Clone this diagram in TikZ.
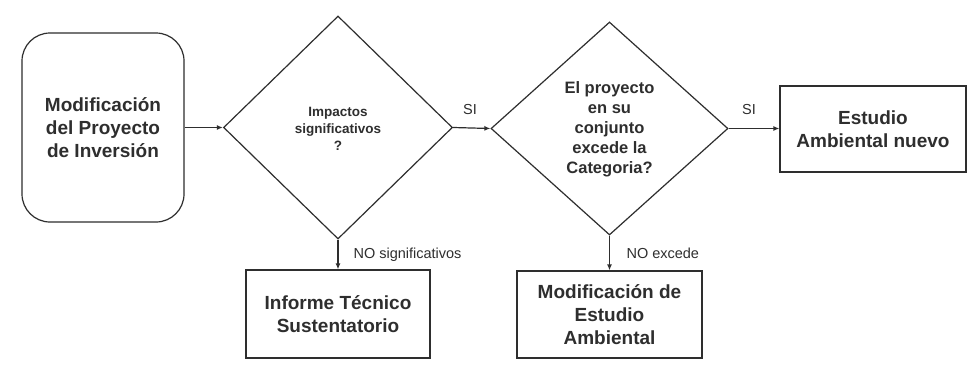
\documentclass[tikz,border=0pt]{standalone}
\usepackage{fontspec}
\setmainfont{Liberation Sans}
\usetikzlibrary{shapes.geometric,arrows.meta}
\definecolor{ink}{HTML}{2E2E2E}
\begin{document}
\begin{tikzpicture}[x=1pt,y=-1pt,
  every node/.style={text=ink},
  big/.style={font=\fontsize{19}{23}\selectfont\bfseries, align=center},
  mid/.style={font=\fontsize{16.5}{20}\selectfont\bfseries, align=center},
  small/.style={font=\fontsize{13.5}{17}\selectfont\bfseries, align=center},
  lbl/.style={font=\fontsize{14.5}{17}\selectfont},
  boxstyle/.style={draw=ink, line width=1.2pt, rectangle, inner sep=0pt},
  decision/.style={draw=ink, line width=1.2pt, diamond, inner sep=0pt},
  conn/.style={draw=ink, line width=1.2pt, -{Latex[length=6pt,width=5pt]}}
]
\useasboundingbox (0,0) rectangle (972,375);
\fill[white] (0,0) rectangle (972,375);

\node[boxstyle, big, rounded corners=28pt, minimum width=162pt, minimum height=189pt] (start) at (103,127.5) {Modificación\\del Proyecto\\de Inversión};
\node[decision, minimum width=229pt, minimum height=223pt] (d1) at (338,127.5) {};
\node[small] (d1t) at (338,129) {Impactos\\significativos\\?};
\node[decision, minimum width=237pt, minimum height=213pt] (d2) at (609.5,128.5) {};
\node[mid] (d2t) at (609.5,129) {El proyecto\\en su\\conjunto\\excede la\\Categoria?};
\node[boxstyle, big, minimum width=186pt, minimum height=86pt] (est) at (873,129) {Estudio\\Ambiental nuevo};
\node[boxstyle, big, minimum width=184pt, minimum height=88pt] (inf) at (338,314) {Informe Técnico\\Sustentatorio};
\node[boxstyle, big, minimum width=185pt, minimum height=87pt] (mod) at (609.5,314.5) {Modificación de\\Estudio\\Ambiental};

\draw[conn] (start.east) -- (d1.west);
\draw[conn] (d1.east) -- (d2.west);
\draw[conn] (d2.east) -- (est.west |- d2.east);
\draw[conn] (d1.south) -- (inf.north);
\draw[conn] (d2.south) -- (mod.north);

\node[lbl] (si1) at (470,110) {SI};
\node[lbl] (si2) at (749,110) {SI};
\node[lbl, anchor=west] (nos) at (350,255) {NO significativos};
\node[lbl, anchor=west] (noe) at (623,253) {NO excede};
\end{tikzpicture}
\end{document}
